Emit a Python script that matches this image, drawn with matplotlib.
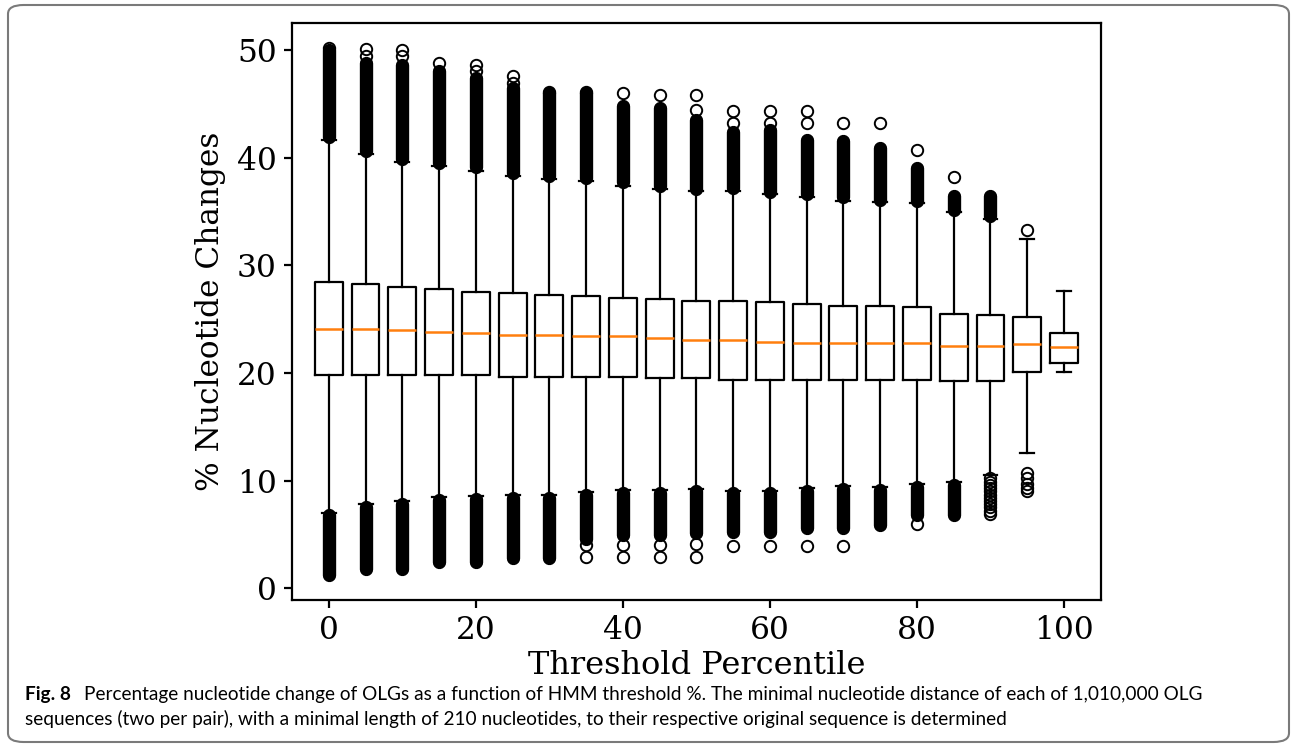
import matplotlib
matplotlib.use("Agg")
import matplotlib.pyplot as plt
from matplotlib.patches import FancyBboxPatch

# threshold percentiles (box positions)
positions = [0, 5, 10, 15, 20, 25, 30, 35, 40, 45, 50, 55, 60, 65, 70, 75, 80, 85, 90, 95, 100]

# box statistics (% nucleotide changes)
q1 = [19.8, 19.8, 19.8, 19.8, 19.8, 19.6, 19.6, 19.6, 19.6, 19.5, 19.5,
      19.35, 19.35, 19.35, 19.35, 19.35, 19.35, 19.2, 19.2, 20.1, 20.95]
med = [24.1, 24.1, 23.95, 23.8, 23.7, 23.55, 23.55, 23.4, 23.4, 23.25, 23.1,
       23.1, 22.9, 22.8, 22.8, 22.8, 22.8, 22.5, 22.5, 22.7, 22.4]
q3 = [28.4, 28.25, 27.95, 27.8, 27.5, 27.4, 27.2, 27.1, 26.95, 26.85, 26.7,
      26.7, 26.6, 26.4, 26.2, 26.2, 26.1, 25.5, 25.4, 25.2, 23.7]
whislo = [7.0, 7.8, 8.1, 8.45, 8.55, 8.7, 8.7, 8.95, 9.1, 9.1, 9.2,
          9.05, 9.05, 9.3, 9.5, 9.4, 9.65, 9.9, 10.5, 12.6, 20.1]
whishi = [41.6, 40.3, 39.6, 39.2, 38.8, 38.3, 38.0, 37.8, 37.4, 37.1, 36.9,
          36.9, 36.6, 36.3, 36.0, 35.9, 35.8, 34.9, 34.3, 32.4, 27.6]

# dense outlier columns (lowest, highest) above and below the whiskers
hi_mass = [(41.9, 50.0), (40.6, 48.8), (39.9, 48.6), (39.5, 48.0), (39.1, 47.4),
           (38.6, 46.5), (38.3, 46.0), (38.1, 46.0), (37.7, 44.8), (37.4, 44.6),
           (37.1, 43.5), (37.2, 42.4), (36.8, 42.6), (36.6, 41.6), (36.3, 41.5),
           (36.1, 40.9), (36.0, 39.0), (35.1, 36.4), (34.6, 36.4), None, None]
lo_mass = [(1.2, 6.8), (1.75, 7.5), (1.75, 7.8), (2.4, 8.2), (2.4, 8.3),
           (2.8, 8.4), (2.8, 8.4), (4.6, 8.7), (4.9, 8.8), (4.9, 8.8),
           (5.1, 9.0), (5.2, 8.8), (5.2, 8.8), (5.6, 9.0), (5.6, 9.2),
           (5.85, 9.1), (6.8, 9.4), (6.8, 9.6), None, None, None]

# single outliers that stand apart from the columns
hi_single = [[50.2], [50.1, 49.4], [50.0, 49.4], [48.8], [48.6, 48.0],
             [47.6, 46.9], [46.1], [46.1], [46.0], [45.8], [45.8, 44.4],
             [44.35, 43.25], [44.35, 43.25], [44.35, 43.25], [43.25], [43.25],
             [40.7], [38.2], [], [33.3], []]
lo_single = [[], [], [], [], [], [], [], [4.0, 2.9], [4.0, 2.9], [4.0, 2.9],
             [4.1, 2.9], [3.9], [3.9], [3.9], [3.9], [], [5.95], [],
             [10.2, 9.9, 9.6, 9.3, 9.0, 8.7, 8.4, 8.1, 7.8, 7.5, 7.2, 6.9],
             [10.7, 10.2, 9.7, 9.3, 9.0], []]

caption_head = 'Fig. 8'
caption_1 = ('Percentage nucleotide change of OLGs as a function of HMM threshold %. '
             'The minimal nucleotide distance of each of 1,010,000 OLG')
caption_2 = ('sequences (two per pair), with a minimal length of 210 nucleotides, '
             'to their respective original sequence is determined')

ms = 8.2
mew = 1.4
lw = 1.6
W, H = 1292, 745

fig = plt.figure(figsize=(W / 100, H / 100), dpi=100)
ax = fig.add_axes([0.226, 0.1946, 0.626, 0.7745])

stats = []
for i in range(len(positions)):
    stats.append(dict(q1=q1[i], med=med[i], q3=q3[i], whislo=whislo[i],
                      whishi=whishi[i], fliers=hi_single[i] + lo_single[i]))

ax.bxp(stats, positions=positions, widths=3.8, manage_ticks=False,
       boxprops=dict(color='black', linewidth=lw),
       whiskerprops=dict(color='black', linewidth=lw),
       capprops=dict(color='black', linewidth=lw),
       medianprops=dict(color='#ff7f0e', linewidth=lw + 0.2),
       flierprops=dict(marker='o', markersize=ms, markeredgewidth=mew,
                       markerfacecolor='none', markeredgecolor='black'))

# the dense outlier clouds render as solid columns of overlapping circles
for i, x in enumerate(positions):
    for m in (hi_mass[i], lo_mass[i]):
        if m is None:
            continue
        ax.plot([x, x], [m[0], m[1]], color='black', linewidth=ms + mew,
                solid_capstyle='round', zorder=3)

ax.set_xlim(-5, 105)
ax.set_ylim(-1.1, 52.5)
ax.set_xticks([0, 20, 40, 60, 80, 100])
ax.set_yticks([0, 10, 20, 30, 40, 50])
for s in ax.spines.values():
    s.set_linewidth(lw)
ax.tick_params(width=lw, length=6, labelsize=22.5, pad=5)
for lab in ax.get_xticklabels() + ax.get_yticklabels():
    lab.set_family('DejaVu Serif')
ax.set_xlabel('Threshold Percentile', family='DejaVu Serif', fontsize=23, labelpad=3)
ax.set_ylabel('% Nucleotide Changes', family='DejaVu Serif', fontsize=22.5, labelpad=8)

# caption panel
fig.patches.append(FancyBboxPatch((8 / W, 3 / H), 1281 / W, 737 / H,
                                  boxstyle='round,pad=0,rounding_size=0.012',
                                  transform=fig.transFigure, facecolor='none',
                                  edgecolor='#7a7a7a', linewidth=1.5))
cap_font = ['Lato', 'DejaVu Sans']
fs = 13.5
y1 = 1 - 700 / H
y2 = 1 - 725 / H
r = fig.canvas.get_renderer()
t0 = fig.text(25 / W, y1, caption_head, fontsize=fs, weight='bold', family=cap_font, va='baseline')
x1 = t0.get_window_extent(r).x1 + 13
t1 = fig.text(x1 / W, y1, caption_1, fontsize=fs, family=cap_font, va='baseline')
# fit the first caption line to the width it takes in the reference
fs = fs * (1207 - x1) / t1.get_window_extent(r).width
t0.set_fontsize(fs)
x1 = t0.get_window_extent(r).x1 + 13
t1.set_fontsize(fs)
t1.set_x(x1 / W)
fig.text(25 / W, y2, caption_2, fontsize=fs, family=cap_font, va='baseline')

fig.savefig('out.png', dpi=100)
